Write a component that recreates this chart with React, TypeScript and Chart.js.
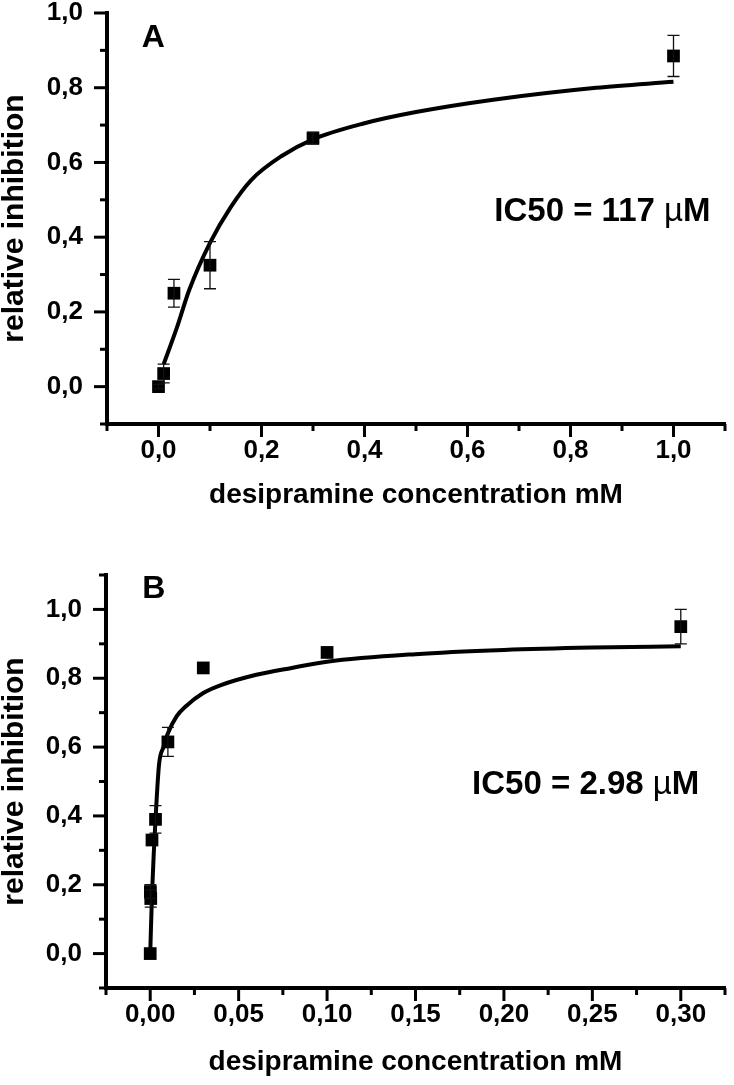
import React, { useEffect, useRef } from 'react';
import { Chart, registerables } from 'chart.js';

Chart.register(...registerables);

// ---------------- Panel A data ----------------
const concA = [0, 0.01, 0.03, 0.1, 0.3, 1.0];
const inhibA = [0.0, 0.035, 0.25, 0.325, 0.665, 0.885];
const errA = [0.006, 0.025, 0.037, 0.063, 0.016, 0.055];
const fitConcA = [0.01, 0.035, 0.06, 0.1, 0.14, 0.18, 0.24, 0.3, 0.4, 0.5, 0.65, 0.85, 1.0];
const fitInhibA = [0.06, 0.155, 0.26, 0.385, 0.48, 0.553, 0.618, 0.662, 0.705, 0.735, 0.768, 0.8, 0.816];
const xTickValuesA = [-0.1, 0, 0.1, 0.2, 0.3, 0.4, 0.5, 0.6, 0.7, 0.8, 0.9, 1.0, 1.1];
const xTickLabelsA = ['', '0,0', '', '0,2', '', '0,4', '', '0,6', '', '0,8', '', '1,0', ''];
const yTickValuesA = [-0.1, 0, 0.1, 0.2, 0.3, 0.4, 0.5, 0.6, 0.7, 0.8, 0.9, 1.0];
const yTickLabelsA = ['', '0,0', '', '0,2', '', '0,4', '', '0,6', '', '0,8', '', '1,0'];
const ic50TextA = ['IC50 = 117 ', 'µ', 'M'];

// ---------------- Panel B data ----------------
const concB = [0, 0.0001, 0.0003, 0.001, 0.003, 0.01, 0.03, 0.1, 0.3];
const inhibB = [0.0, 0.18, 0.16, 0.33, 0.39, 0.615, 0.83, 0.875, 0.95];
const errB = [0, 0.02, 0.025, 0, 0.04, 0.042, 0, 0, 0.05];
const fitConcB = [0, 0.001, 0.002, 0.003, 0.005, 0.0075, 0.01, 0.015, 0.02, 0.03, 0.04, 0.06, 0.08, 0.1, 0.15, 0.2, 0.25, 0.3];
const fitInhibB = [0.0, 0.17, 0.29, 0.39, 0.55, 0.6, 0.64, 0.69, 0.718, 0.757, 0.78, 0.81, 0.83, 0.848, 0.87, 0.882, 0.889, 0.893];
const xTickValuesB = [-0.025, 0, 0.025, 0.05, 0.075, 0.1, 0.125, 0.15, 0.175, 0.2, 0.225, 0.25, 0.275, 0.3, 0.325];
const xTickLabelsB = ['', '0,00', '', '0,05', '', '0,10', '', '0,15', '', '0,20', '', '0,25', '', '0,30', ''];
const yTickValuesB = [-0.1, 0, 0.1, 0.2, 0.3, 0.4, 0.5, 0.6, 0.7, 0.8, 0.9, 1.0, 1.1];
const yTickLabelsB = ['', '0,0', '', '0,2', '', '0,4', '', '0,6', '', '0,8', '', '1,0', ''];
const ic50TextB = ['IC50 = 2.98 ', 'µ', 'M'];

const X_TITLE = 'desipramine concentration mM';
const Y_TITLE = 'relative inhibition';
const FAMILY = '"Liberation Sans", Arial, Helvetica, sans-serif';

const decorPlugin = {
  id: 'decor',
  afterDatasetsDraw(chart: any, _args: any, opts: any) {
    const { ctx, chartArea } = chart;
    const x = chart.scales.x;
    const y = chart.scales.y;
    ctx.save();
    // error bars
    ctx.strokeStyle = '#111';
    ctx.lineWidth = 1.3;
    opts.xs.forEach((xv: number, i: number) => {
      const e = opts.errs[i];
      if (!e) return;
      const px = x.getPixelForValue(xv);
      const top = y.getPixelForValue(opts.ys[i] + e);
      const bot = y.getPixelForValue(opts.ys[i] - e);
      ctx.beginPath();
      ctx.moveTo(px, top);
      ctx.lineTo(px, bot);
      ctx.moveTo(px - 6, top);
      ctx.lineTo(px + 6, top);
      ctx.moveTo(px - 6, bot);
      ctx.lineTo(px + 6, bot);
      ctx.stroke();
    });
    // tick marks (major long, minor short)
    ctx.strokeStyle = '#000';
    ctx.lineWidth = 3;
    opts.xTicks.forEach((v: number, i: number) => {
      const len = opts.xLabels[i] ? 13 : 7;
      const px = x.getPixelForValue(v);
      ctx.beginPath();
      ctx.moveTo(px, chartArea.bottom);
      ctx.lineTo(px, chartArea.bottom + len);
      ctx.stroke();
    });
    opts.yTicks.forEach((v: number, i: number) => {
      const len = opts.yLabels[i] ? 13 : 7;
      const py = y.getPixelForValue(v);
      ctx.beginPath();
      ctx.moveTo(chartArea.left, py);
      ctx.lineTo(chartArea.left - len, py);
      ctx.stroke();
    });
    // panel letter
    ctx.fillStyle = '#000';
    ctx.textBaseline = 'middle';
    ctx.textAlign = 'center';
    ctx.font = `bold 32px ${FAMILY}`;
    ctx.fillText(opts.letter, x.getPixelForValue(opts.letterPos[0]), y.getPixelForValue(opts.letterPos[1]));
    // IC50 text
    ctx.textAlign = 'left';
    let tx = x.getPixelForValue(opts.icPos[0]);
    const ty = y.getPixelForValue(opts.icPos[1]);
    opts.ic.forEach((part: string, i: number) => {
      ctx.font = i === 1 ? `33px ${FAMILY}` : `bold 33px ${FAMILY}`;
      ctx.fillText(part, tx, ty);
      tx += ctx.measureText(part).width;
    });
    ctx.restore();
  },
};

function zeroPad(s: any) {
  s.paddingTop = 0;
  s.paddingBottom = 0;
  s.paddingLeft = 0;
  s.paddingRight = 0;
}

function makeConfig(p: any) {
  const tickFont = { family: FAMILY, size: 26, weight: 'bold' as const };
  const xTitleFont = { family: FAMILY, size: 28, weight: 'bold' as const };
  const yTitleFont = { family: FAMILY, size: 30, weight: 'bold' as const, lineHeight: 1.0 };
  return {
    type: 'scatter' as const,
    data: {
      datasets: [
        {
          data: p.xs.map((v: number, i: number) => ({ x: v, y: p.ys[i] })),
          showLine: false,
          pointStyle: 'rect',
          pointRadius: 9,
          pointBackgroundColor: '#000',
          pointBorderWidth: 0,
          borderColor: '#000',
          backgroundColor: '#000',
        },
        {
          data: p.fx.map((v: number, i: number) => ({ x: v, y: p.fy[i] })),
          showLine: true,
          pointRadius: 0,
          borderColor: '#000',
          borderWidth: 4,
          cubicInterpolationMode: 'monotone',
          fill: false,
        },
      ],
    },
    options: {
      responsive: false,
      animation: false,
      events: [],
      layout: { padding: p.padding },
      plugins: {
        legend: { display: false },
        tooltip: { enabled: false },
        decor: {
          xs: p.xs, ys: p.ys, errs: p.errs,
          xTicks: p.xTicks, xLabels: p.xLabels,
          yTicks: p.yTicks, yLabels: p.yLabels,
          letter: p.letter, letterPos: p.letterPos,
          ic: p.ic, icPos: p.icPos,
        },
      },
      scales: {
        x: {
          type: 'linear',
          min: p.xMin,
          max: p.xMax,
          afterBuildTicks: (s: any) => { s.ticks = p.xTicks.map((value: number) => ({ value })); },
          afterFit: (s: any) => { s.height = p.xAxisHeight; zeroPad(s); },
          ticks: {
            autoSkip: false, maxRotation: 0, minRotation: 0, padding: p.xTickPad,
            color: '#000', font: tickFont,
            callback: (_v: any, i: number) => p.xLabels[i],
          },
          grid: { display: false, drawTicks: false },
          border: { display: true, color: '#000', width: 4 },
          title: { display: true, text: X_TITLE, color: '#000', font: xTitleFont, padding: { top: 0, bottom: p.xTitlePad } },
        },
        y: {
          type: 'linear',
          min: p.yMin,
          max: p.yMax,
          afterBuildTicks: (s: any) => { s.ticks = p.yTicks.map((value: number) => ({ value })); },
          afterFit: (s: any) => { s.width = p.yAxisWidth; zeroPad(s); },
          ticks: {
            autoSkip: false, padding: 24, color: '#000', font: tickFont,
            callback: (_v: any, i: number) => p.yLabels[i],
          },
          grid: { display: false, drawTicks: false },
          border: { display: true, color: '#000', width: 4 },
          title: { display: true, text: Y_TITLE, color: '#000', font: yTitleFont, padding: { top: 0, bottom: 0 } },
        },
      },
    },
    plugins: [decorPlugin],
  };
}

const panelA = {
  xs: concA, ys: inhibA, errs: errA, fx: fitConcA, fy: fitInhibA,
  xTicks: xTickValuesA, xLabels: xTickLabelsA, yTicks: yTickValuesA, yLabels: yTickLabelsA,
  xMin: -0.1, xMax: 1.1, yMin: -0.1, yMax: 1.0,
  letter: 'A', letterPos: [-0.01, 0.932], ic: ic50TextA, icPos: [0.652, 0.467],
  padding: { left: 0, right: 2, top: 13, bottom: 0 },
  yAxisWidth: 107, xAxisHeight: 96, xTickPad: 11, xTitlePad: 8,
};

const panelB = {
  xs: concB, ys: inhibB, errs: errB, fx: fitConcB, fy: fitInhibB,
  xTicks: xTickValuesB, xLabels: xTickLabelsB, yTicks: yTickValuesB, yLabels: yTickLabelsB,
  xMin: -0.025, xMax: 0.325, yMin: -0.1, yMax: 1.1,
  letter: 'B', letterPos: [0.002, 1.058], ic: ic50TextB, icPos: [0.182, 0.49],
  padding: { left: 0, right: 1, top: 45, bottom: 0 },
  yAxisWidth: 106, xAxisHeight: 97, xTickPad: 11, xTitlePad: 6,
};

function Panel({ p, top, height }: { p: any; top: number; height: number }) {
  const ref = useRef<HTMLCanvasElement | null>(null);
  useEffect(() => {
    if (!ref.current) return;
    const chart = new Chart(ref.current, makeConfig(p) as any);
    return () => chart.destroy();
  }, [p]);
  return (
    <div style={{ position: 'absolute', left: 0, top, width: 734, height }}>
      <canvas ref={ref} width={734} height={height} style={{ display: 'block' }} />
    </div>
  );
}

export default function App() {
  return (
    <div style={{ position: 'absolute', left: 0, top: 0, width: 734, height: 1085, background: '#fff' }}>
      <Panel p={panelA} top={0} height={520} />
      <Panel p={panelB} top={530} height={555} />
    </div>
  );
}
